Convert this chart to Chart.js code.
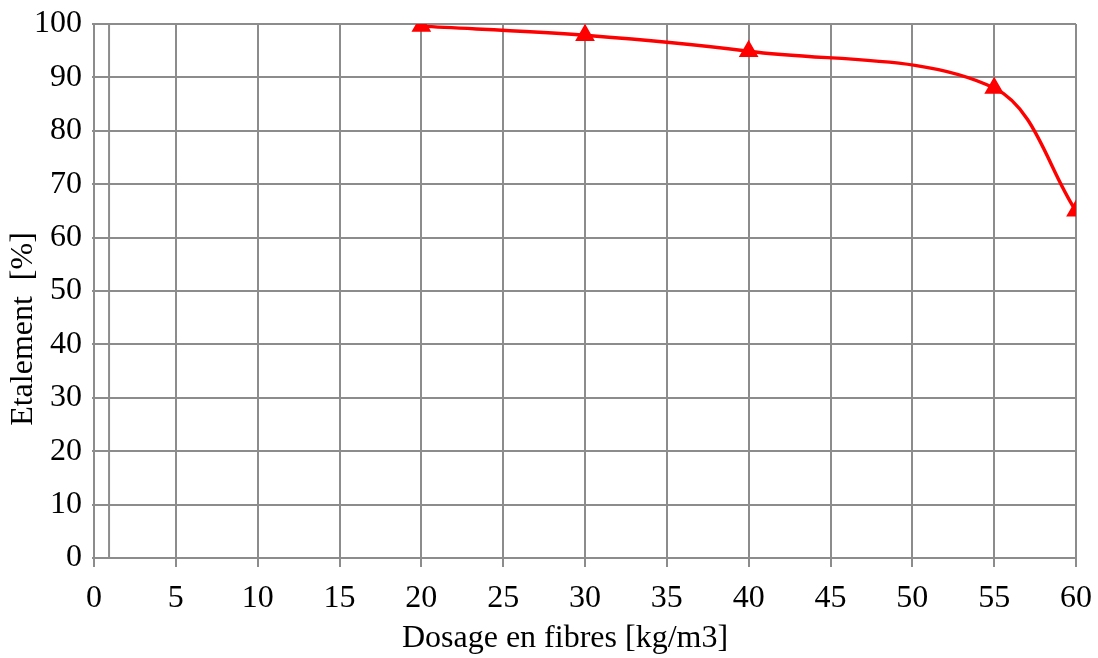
<!DOCTYPE html>
<html><head><meta charset="utf-8">
<script src="https://cdn.jsdelivr.net/npm/chart.js@4/dist/chart.umd.min.js"></script>
<style>html,body{margin:0;padding:0;background:#fff}#wrap{width:1098px;height:658px}</style>
</head><body><div id="wrap"><canvas id="c" width="1098" height="658"></canvas></div>
<script>
const dosage = [20, 30, 40, 55, 60];
const etalement = [99.6, 97.9, 94.9, 88, 65];
const xTicks = [0,5,10,15,20,25,30,35,40,45,50,55,60];
const yTicks = [0,10,20,30,40,50,60,70,80,90,100];
const extraLineX = [0.92, 0.92];
const extraLineY = [0, 100];
const xTitle = 'Dosage en fibres [kg/m3]';
const yTitle = 'Etalement  [%]';

const fam = '"Liberation Serif", "Times New Roman", serif';
const font = {family: fam, size: 32};
const grid = '#8c8c8c';

const titles = {
  id: 'titles',
  afterDraw(chart) {
    const ctx = chart.ctx;
    ctx.save();
    ctx.fillStyle = '#000';
    ctx.font = '32px ' + fam;
    ctx.textAlign = 'center';
    ctx.textBaseline = 'middle';
    ctx.fillText(xTitle, 565, 639);
    ctx.translate(24, 329);
    ctx.rotate(-Math.PI/2);
    ctx.fillText(yTitle, 0, 0);
    ctx.restore();
  }
};

new Chart(document.getElementById('c'), {
  type: 'scatter',
  data: {datasets: [
    {data: extraLineX.map((x,i)=>({x, y: extraLineY[i]})), showLine: true, borderColor: grid, borderWidth: 2, pointRadius: 0, tension: 0},
    {data: dosage.map((x,i)=>({x, y: etalement[i]})), showLine: true, borderColor: '#ff0000', backgroundColor: '#ff0000',
     borderWidth: 3.4, pointStyle: 'triangle', pointRadius: 8, tension: 0.34}
  ]},
  options: {
    responsive: false, animation: false,
    layout: {padding: {top: 24, right: 22, left: 0, bottom: 0}},
    plugins: {legend: {display: false}, tooltip: {enabled: false}},
    scales: {
      x: {type: 'linear', min: 0, max: 60,
        afterBuildTicks: s => { s.ticks = xTicks.map(v=>({value:v})); },
        afterFit: s => { s.height = 100; s.paddingLeft = 0; s.paddingRight = 0; },
        ticks: {font, color: '#000', padding: 12, maxRotation: 0},
        grid: {color: grid, lineWidth: 2, tickLength: 9, tickColor: grid},
        border: {color: grid, width: 2}
      },
      y: {min: 0, max: 100,
        afterBuildTicks: s => { s.ticks = yTicks.map(v=>({value:v})); },
        afterFit: s => { s.width = 94; s.paddingTop = 0; s.paddingBottom = 0; },
        ticks: {font, color: '#000', padding: 10},
        grid: {color: grid, lineWidth: 2, tickLength: 2, tickColor: grid},
        border: {color: grid, width: 2}
      }
    }
  },
  plugins: [titles]
});
</script></body></html>
